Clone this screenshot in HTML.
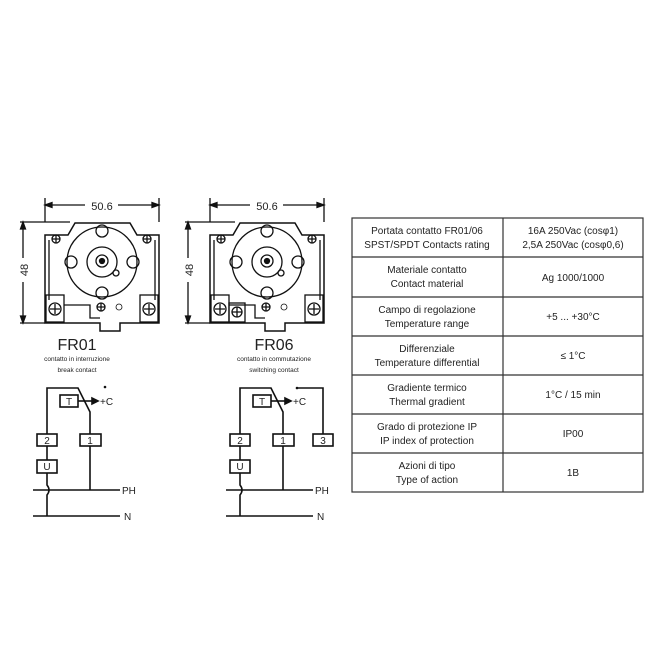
<!DOCTYPE html>
<html><head><style>
body{margin:0;background:#fff;}
svg{display:block;}
text{font-family:"Liberation Sans",sans-serif;fill:#222;}
</style></head><body>
<svg width="658" height="660" viewBox="0 0 658 660" xmlns="http://www.w3.org/2000/svg">
<defs>
<g id="dev" stroke="#111" fill="none" stroke-width="1.3">
  <line x1="45" y1="198" x2="45" y2="222"/>
  <line x1="159" y1="198" x2="159" y2="222"/>
  <line x1="45" y1="205" x2="85" y2="205"/>
  <line x1="118" y1="205" x2="159" y2="205"/>
  <path d="M45 205 l7 -2.5 v5z M159 205 l-7 -2.5 v5z" fill="#111"/>
  <line x1="20" y1="222" x2="70" y2="222"/>
  <line x1="20" y1="323" x2="45" y2="323"/>
  <line x1="23" y1="222" x2="23" y2="258"/>
  <line x1="23" y1="282" x2="23" y2="323"/>
  <path d="M23 222 l-2.5 7 h5z M23 323 l-2.5 -7 h5z" fill="#111"/>
  <path d="M45 323 V235 H68 L75 223 H130 L137 235 H159 V323 H120 V331 H100 V323 Z" stroke-width="1.5"/>
  <line x1="49" y1="240" x2="49" y2="300"/>
  <line x1="155" y1="240" x2="155" y2="300"/>
  <circle cx="102" cy="262" r="35"/>
  <circle cx="102" cy="231" r="6"/>
  <circle cx="102" cy="293" r="6"/>
  <circle cx="71" cy="262" r="6"/>
  <circle cx="133" cy="262" r="6"/>
  <circle cx="102" cy="262" r="15"/>
  <circle cx="102" cy="261" r="6"/>
  <circle cx="102" cy="261" r="2.5" fill="#111"/>
  <circle cx="116" cy="273" r="3"/>
  <circle cx="56" cy="239" r="4"/><path d="M52 239h8M56 235v8"/>
  <circle cx="147" cy="239" r="4"/><path d="M143 239h8M147 235v8"/>
  <circle cx="101" cy="307" r="4"/><path d="M97 307h8M101 303v8"/>
  <circle cx="119" cy="307" r="3" stroke-width="0.8"/>
  <rect x="46" y="295" width="18" height="27"/>
  <circle cx="55" cy="309" r="6"/><path d="M50 309h10M55 304v10"/>
  <rect x="140" y="295" width="18" height="27"/>
  <circle cx="149" cy="309" r="6"/><path d="M144 309h10M149 304v10"/>
  <path d="M64 305 H90 V318 H100"/>
</g>
<g id="ckt" stroke="#111" fill="none" stroke-width="1.6">
  <path d="M47 516 V495 q4 -5 0 -10 V388 H78 L90 412 V490"/>
  <rect x="60" y="395" width="18" height="12" fill="#fff"/>
  <line x1="78" y1="401" x2="93" y2="401"/>
  <path d="M98 401 l-6 -3 v6z" fill="#111"/>
  <rect x="37" y="434" width="20" height="12" fill="#fff"/>
  <rect x="80" y="434" width="21" height="12" fill="#fff"/>
  <rect x="37" y="460" width="20" height="13" fill="#fff"/>
  <line x1="33" y1="490" x2="120" y2="490"/>
  <line x1="33" y1="516" x2="120" y2="516"/>
</g>
</defs>
<use href="#dev"/>
<use href="#dev" x="165"/>
<g stroke="#111" fill="none" stroke-width="1.3">
  <rect x="229" y="303" width="16" height="19"/>
  <circle cx="237" cy="312" r="5"/><path d="M232 312h10M237 307v10"/>
</g>
<text x="102" y="210" font-size="11" text-anchor="middle">50.6</text>
<text x="267" y="210" font-size="11" text-anchor="middle">50.6</text>
<text transform="translate(28,270) rotate(-90)" font-size="11" text-anchor="middle">48</text>
<text transform="translate(193,270) rotate(-90)" font-size="11" text-anchor="middle">48</text>

<text x="77" y="350" font-size="16" text-anchor="middle">FR01</text>
<text x="77" y="361" font-size="6.5" text-anchor="middle">contatto in interruzione</text>
<text x="77" y="372" font-size="6.5" text-anchor="middle">break contact</text>
<text x="274" y="350" font-size="16" text-anchor="middle">FR06</text>
<text x="274" y="361" font-size="6.5" text-anchor="middle">contatto in commutazione</text>
<text x="274" y="372" font-size="6.5" text-anchor="middle">switching contact</text>

<use href="#ckt"/>
<use href="#ckt" x="193"/>
<circle cx="105" cy="387" r="1.3" fill="#111"/>
<path d="M297 388 H323 V434" stroke="#111" fill="none" stroke-width="1.6"/>
<circle cx="297" cy="388" r="1.3" fill="#111"/>
<rect x="313" y="434" width="20" height="12" fill="#fff" stroke="#111" stroke-width="1.6"/>
<g font-size="10" text-anchor="middle">
<text x="69" y="405">T</text><text x="47" y="444">2</text><text x="90" y="444">1</text><text x="47" y="470">U</text>
<text x="262" y="405">T</text><text x="240" y="444">2</text><text x="283" y="444">1</text><text x="240" y="470">U</text><text x="323" y="444">3</text>
</g>
<g font-size="10">
<text x="100" y="405">+C</text><text x="293" y="405">+C</text>
<text x="122" y="494">PH</text><text x="124" y="520">N</text>
<text x="315" y="494">PH</text><text x="317" y="520">N</text>
</g>

<g stroke="#333" stroke-width="1.2" fill="none">
<rect x="352" y="218" width="291" height="274"/>
<line x1="503" y1="218" x2="503" y2="492"/>
<line x1="352" y1="257" x2="643" y2="257"/>
<line x1="352" y1="297" x2="643" y2="297"/>
<line x1="352" y1="336" x2="643" y2="336"/>
<line x1="352" y1="375" x2="643" y2="375"/>
<line x1="352" y1="414" x2="643" y2="414"/>
<line x1="352" y1="453" x2="643" y2="453"/>
</g>
<g font-size="10" text-anchor="middle">
<text x="427" y="234">Portata contatto FR01/06</text><text x="427" y="248">SPST/SPDT Contacts rating</text>
<text x="573" y="234">16A 250Vac (cosφ1)</text><text x="573" y="248">2,5A 250Vac (cosφ0,6)</text>
<text x="427" y="273">Materiale contatto</text><text x="427" y="287">Contact material</text>
<text x="573" y="281">Ag  1000/1000</text>
<text x="427" y="313">Campo di regolazione</text><text x="427" y="327">Temperature range</text>
<text x="573" y="320">+5 ... +30°C</text>
<text x="427" y="352">Differenziale</text><text x="427" y="366">Temperature differential</text>
<text x="573" y="359">≤ 1°C</text>
<text x="427" y="391">Gradiente termico</text><text x="427" y="405">Thermal gradient</text>
<text x="573" y="398">1°C / 15 min</text>
<text x="427" y="430">Grado di protezione IP</text><text x="427" y="444">IP index of protection</text>
<text x="573" y="437">IP00</text>
<text x="427" y="469">Azioni di tipo</text><text x="427" y="483">Type of action</text>
<text x="573" y="476">1B</text>
</g>
</svg>
</body></html>
